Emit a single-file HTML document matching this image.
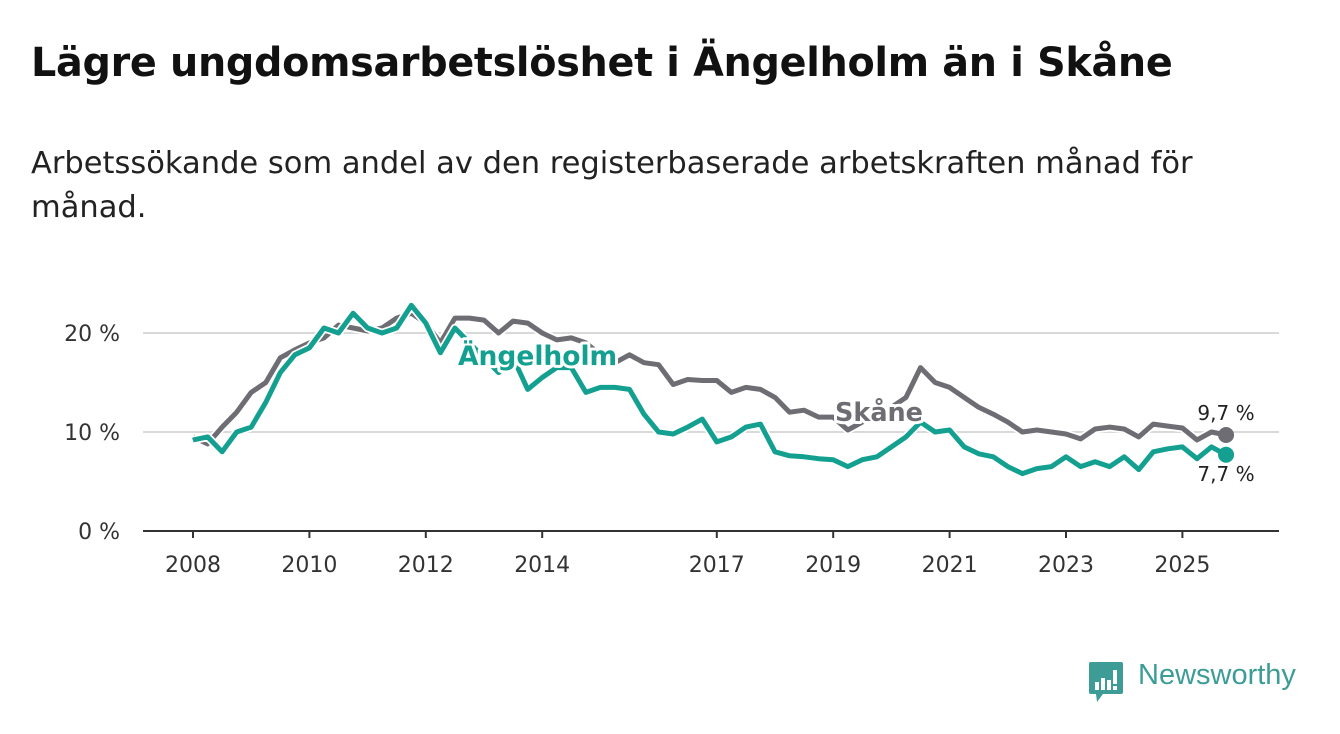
<!DOCTYPE html>
<html><head><meta charset="utf-8">
<style>
html,body{margin:0;padding:0;background:#fff;width:1340px;height:734px;overflow:hidden;font-family:"DejaVu Sans",sans-serif;}
#title{position:absolute;left:31px;top:40px;font-size:39.7px;font-weight:bold;color:#111;margin:0;letter-spacing:-0.3px;white-space:nowrap}
#sub{position:absolute;left:31px;top:142px;font-size:30.5px;color:#222;line-height:44px;width:1280px;margin:0;white-space:nowrap}
svg{position:absolute;left:0;top:0}
</style></head>
<body>
<h1 id="title">Lägre ungdomsarbetslöshet i Ängelholm än i Skåne</h1>
<p id="sub">Arbetssökande som andel av den registerbaserade arbetskraften månad för<br>månad.</p>
<svg id="chart" width="1340" height="734"></svg>
<script>
const startYear = 2008;
const stepYears = 0.25;
const skane = [9.5,8.8,10.5,12,14,15,17.5,18.3,19,19.5,20.8,20.5,20.2,20.5,21.5,22,21,19,21.5,21.5,21.3,20,21.2,21,20,19.3,19.5,19,17.8,17,17.8,17,16.8,14.8,15.3,15.2,15.2,14,14.5,14.3,13.5,12,12.2,11.5,11.5,10.2,11,12,12.5,13.5,16.5,15,14.5,13.5,12.5,11.8,11,10,10.2,10,9.8,9.3,10.3,10.5,10.3,9.5,10.8,10.6,10.4,9.2,10,9.7];
const angelholm = [9.2,9.5,8,10,10.5,13,16,17.8,18.5,20.5,20,22,20.5,20,20.5,22.8,21,18,20.5,19,17.5,16,17.5,14.3,15.5,16.5,16.5,14,14.5,14.5,14.3,11.8,10,9.8,10.5,11.3,9,9.5,10.5,10.8,8,7.6,7.5,7.3,7.2,6.5,7.2,7.5,8.5,9.5,11,10,10.2,8.5,7.8,7.5,6.5,5.8,6.3,6.5,7.5,6.5,7,6.5,7.5,6.2,8,8.3,8.5,7.3,8.5,7.7];
const yTicks = [0,10,20];
const xTicks = [2008,2010,2012,2014,2017,2019,2021,2023,2025];
const NS='http://www.w3.org/2000/svg';
const svg=document.getElementById('chart');
const FF='DejaVu Sans, sans-serif';
const x=v=>193+(v-2008)*58.2;
const y=v=>531-v*9.9;
function mk(t,a){const e=document.createElementNS(NS,t);for(const k in a)e.setAttribute(k,a[k]);svg.appendChild(e);return e;}
yTicks.forEach(t=>{
 if(t>0){const g=mk('line',{x1:143,x2:1279,y1:y(t),y2:y(t),stroke:'#d9d9d9','stroke-width':2});
 
 }
 const l=mk('text',{x:120,y:y(t)+8,'text-anchor':'end','font-size':22,fill:'#333','font-family':FF});
 l.textContent=t+' %';
 
 
});
const ax=mk('line',{x1:143,x2:1279,y1:531,y2:531,stroke:'#333','stroke-width':2});


xTicks.forEach(t=>{
 const tk=mk('line',{x1:x(t),x2:x(t),y1:531,y2:538,stroke:'#333','stroke-width':2});
 
 
 const l=mk('text',{x:x(t),y:572,'text-anchor':'middle','font-size':22,fill:'#333','font-family':FF});
 l.textContent=t;
 
 
});
function pts(arr){return arr.map((v,i)=>x(startYear+i*stepYears).toFixed(1)+','+y(v).toFixed(1)).join(' ');}
function series(arr,col,name){
 const h=mk('polyline',{points:pts(arr),fill:'none',stroke:'#fff','stroke-width':8.5,'stroke-linejoin':'round'});
 
 
 const p=mk('polyline',{points:pts(arr),fill:'none',stroke:col,'stroke-width':5,'stroke-linejoin':'round'});
 
 
 const n=arr.length-1;
 const c=mk('circle',{cx:x(startYear+n*stepYears),cy:y(arr[n]),r:8,fill:col});
 
 
}
series(skane,'#6e6d73','skane');
series(angelholm,'#13a090','angelholm');
function lab(txt,px,py,col,size,w,name,anchor){
 const a={x:px,y:py,'font-size':size,'font-weight':w,fill:col,'font-family':FF,stroke:'#fff','stroke-width':6,'paint-order':'stroke','stroke-linejoin':'round'};
 if(anchor)a['text-anchor']=anchor;
 const t=mk('text',a);t.textContent=txt;
 
 
}
lab('Ängelholm',458,365,'#13a090',26.5,'bold','angelholm-label');
lab('Skåne',835,421,'#6e6d73',25.5,'bold','skane-label');
lab('9,7 %',1226,420,'#222',20,'normal','skane-end-value','middle');
lab('7,7 %',1226,481,'#222',20,'normal','angelholm-end-value','middle');
</script>
<div style="position:absolute;left:1089px;top:662px;height:44px;">
 <svg width="36" height="44" style="position:absolute;left:0;top:0">
  <path d="M2 0 H32 Q34 0 34 2 V30 Q34 32 32 32 H14 L8 40 L7 32 H2 Q0 32 0 30 V2 Q0 0 2 0Z" fill="#3d9c96"/>
  <rect x="6" y="20" width="4" height="8" fill="#fff"/><rect x="12" y="16" width="4" height="12" fill="#fff"/>
  <rect x="18" y="18" width="4" height="10" fill="#fff"/><rect x="24" y="8" width="4" height="14" fill="#fff"/><rect x="24" y="24" width="4" height="4" fill="#fff"/>
 </svg>
 <span style="position:absolute;left:49px;top:-3px;font-size:29px;color:#3d9c96;font-family:'Liberation Sans',sans-serif;white-space:nowrap">Newsworthy</span>
</div>
</body></html>
